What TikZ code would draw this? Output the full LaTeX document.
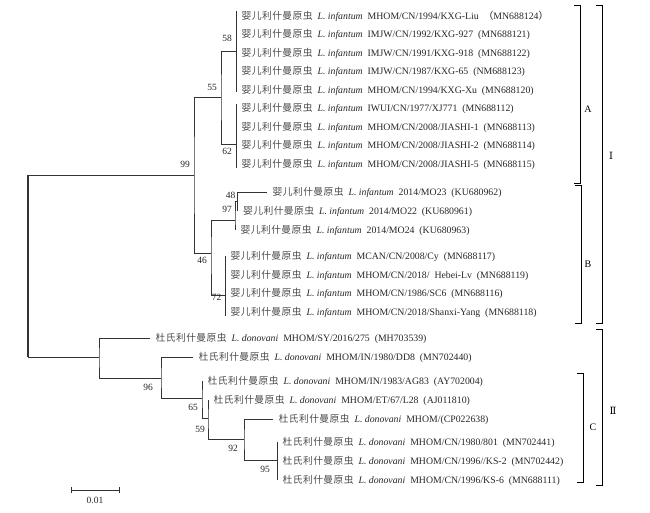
\documentclass[tikz,border=0pt]{standalone}
\usepackage{fontspec}
\setmainfont{Liberation Serif}
\newfontfamily\cjk[LetterSpace=4]{Noto Sans CJK SC}
\newfontfamily\romfont{DejaVu Serif}
\usetikzlibrary{positioning}
\usetikzlibrary{calc}

\newcommand{\ying}{{\cjk\color{black!70}婴儿利什曼原虫}\enspace\textit{L. infantum}\enspace}
\newcommand{\dushi}{{\cjk\color{black!70}杜氏利什曼原虫}\enspace\textit{L. donovani}\enspace}

\begin{document}
\begin{tikzpicture}[x=1pt,y=-1pt,
    br/.style={draw=black!80, line width=0.9pt},
    leaf/.style={anchor=west, inner xsep=5.5pt, inner ysep=0pt, text=black!85,
        font=\fontsize{9.8}{11}\selectfont},
    bs/.style={inner sep=1pt, text=black!85, font=\fontsize{9.5}{10}\selectfont},
    brk/.style={draw=black, line width=1pt},
    clade/.style={inner sep=1pt, font=\fontsize{10}{11}\selectfont}]
\useasboundingbox (0,0) rectangle (650,512);
%
% inner nodes
\coordinate (root) at (28,266);
\coordinate (n99) at (194,175);
\coordinate (n55) at (221,97);
\coordinate (n58) at (236,51);
\coordinate (n62) at (236,144);
\coordinate (n46) at (211,253);
\coordinate (n97) at (235,220);
\coordinate (n48) at (237.5,201.5);
\coordinate (n72) at (225,295);
\coordinate (nL) at (99,357);
\coordinate (n96) at (161,378);
\coordinate (n65) at (202,398);
\coordinate (n59) at (208,418);
\coordinate (n92) at (244,439);
\coordinate (n95) at (277,460);
%
% clade A
\node[leaf] (a1) at (236,16) {\ying MHOM/CN/1994/KXG-Liu\enspace{\cjk （}MN688124{\cjk ）}};
\node[leaf] (a2) at (236,34.5) {\ying IMJW/CN/1992/KXG-927\enspace(MN688121)};
\node[leaf] (a3) at (236,53) {\ying IMJW/CN/1991/KXG-918\enspace(MN688122)};
\node[leaf] (a4) at (236,71.5) {\ying IMJW/CN/1987/KXG-65\enspace(NM688123)};
\node[leaf] (a5) at (236,90) {\ying MHOM/CN/1994/KXG-Xu\enspace(MN688120)};
\node[leaf] (a6) at (236,108.5) {\ying IWUI/CN/1977/XJ771\enspace(MN688112)};
\node[leaf] (a7) at (236,127) {\ying MHOM/CN/2008/JIASHI-1\enspace(MN688113)};
\node[leaf] (a8) at (236,145.5) {\ying MHOM/CN/2008/JIASHI-2\enspace(MN688114)};
\node[leaf] (a9) at (236,164) {\ying MHOM/CN/2008/JIASHI-5\enspace(MN688115)};
%
% clade B
\node[leaf] (b1) at (267,192) {\ying 2014/MO23\enspace(KU680962)};
\node[leaf] (b2) at (237.5,211) {\ying 2014/MO22\enspace(KU680961)};
\node[leaf] (b3) at (235,230) {\ying 2014/MO24\enspace(KU680963)};
\node[leaf] (b4) at (225,256) {\ying MCAN/CN/2008/Cy\enspace(MN688117)};
\node[leaf] (b5) at (225,275) {\ying MHOM/CN/2018/\enspace Hebei-Lv\enspace(MN688119)};
\node[leaf] (b6) at (225,293.5) {\ying MHOM/CN/1986/SC6\enspace(MN688116)};
\node[leaf] (b7) at (225,312) {\ying MHOM/CN/2018/Shanxi-Yang\enspace(MN688118)};
%
% L. donovani
\node[leaf] (d1) at (150,338) {\dushi MHOM/SY/2016/275\enspace(MH703539)};
\node[leaf] (d2) at (193,357) {\dushi MHOM/IN/1980/DD8\enspace(MN702440)};
\node[leaf] (d3) at (202,381) {\dushi MHOM/IN/1983/AG83\enspace(AY702004)};
\node[leaf] (d4) at (208,400) {\dushi MHOM/ET/67/L28\enspace(AJ011810)};
\node[leaf] (d5) at (273,419) {\dushi MHOM/(CP022638)};
\node[leaf] (d6) at (277,442) {\dushi MHOM/CN/1980/801\enspace(MN702441)};
\node[leaf] (d7) at (277,461) {\dushi MHOM/CN/1996//KS-2\enspace(MN702442)};
\node[leaf] (d8) at (277,480) {\dushi MHOM/CN/1996/KS-6\enspace(MN688111)};
%
% branches
\draw[br] (n99) -| (root) |- (nL);
\draw[br, line width=1.6pt] (n99 -| root) -- (nL -| root);
\foreach \c/\p/\d in {n55/n99/n46, n58/n55/n62, n97/n46/n72, n48/n97/b3.west,
    b1.west/n48/b2.west, d1.west/nL/n96, d2.west/n96/n65, d3.west/n65/n59,
    d4.west/n59/n92, d5.west/n92/n95}
    \draw[br] (\c) -| (\p) |- (\d);
\draw[br] ($(a1.west)+(0,-5)$) -- ($(a5.west)+(0,2)$);
\draw[br] ($(a6.west)+(0,-5)$) -- ($(a9.west)+(0,4)$);
\draw[br] (b4.west) -- ($(b7.west)+(0,4)$);
\draw[br] (d6.west) -- (d8.west);
%
% bootstrap values
\node[bs, above left=6.5pt and 3pt of n99] (l99) {99};
\node[bs, above left=5.5pt and 3pt of n55] (l55) {55};
\node[bs, above left=8.5pt and 3pt of n58] (l58) {58};
\node[bs, above left=6.5pt and 2pt of n97] (l97) {97};
\node[bs, above left=2pt and 1pt of n48] (l48) {48};
\node[bs, below left=3.5pt and 3pt of n62] (l62) {62};
\node[bs, below left=3.5pt and 3pt of n46] (l46) {46};
\node[bs, below left=-1.5pt and 2.5pt of n72] (l72) {72};
\node[bs, below left=5.5pt and 7pt of n96] (l96) {96};
\node[bs, below left=5.5pt and 3pt of n65] (l65) {65};
\node[bs, below left=6.5pt and 2pt of n59] (l59) {59};
\node[bs, below left=4.5pt and 5pt of n92] (l92) {92};
\node[bs, below left=4.5pt and 6pt of n95] (l95) {95};
%
% clades
\draw[brk] (574,5) -| (580,183) -- (574,183);
\draw[brk] (575,185) -| (581.5,323) -- (575,323);
\draw[brk] (596,5) -| (602,323) -- (596,323);
\draw[brk] (577,373) -| (583,482) -- (577,482);
\draw[brk] (596,329) -| (602,485) -- (596,485);
\node[clade] (A) at (588,109) {A};
\node[clade] (B) at (588,264) {B};
\node[clade] (C) at (593,427) {C};
\node[clade] (I) at (611,156) {\romfont Ⅰ};
\node[clade] (II) at (613,411) {\romfont Ⅱ};
%
% scale
\draw[br, line width=0.8pt] (71,487) -- (71,493) (71,490) -- (119,490) (119,487) -- (119,493);
\node[bs] (sc) at (95,500) {0.01};
\end{tikzpicture}
\end{document}
